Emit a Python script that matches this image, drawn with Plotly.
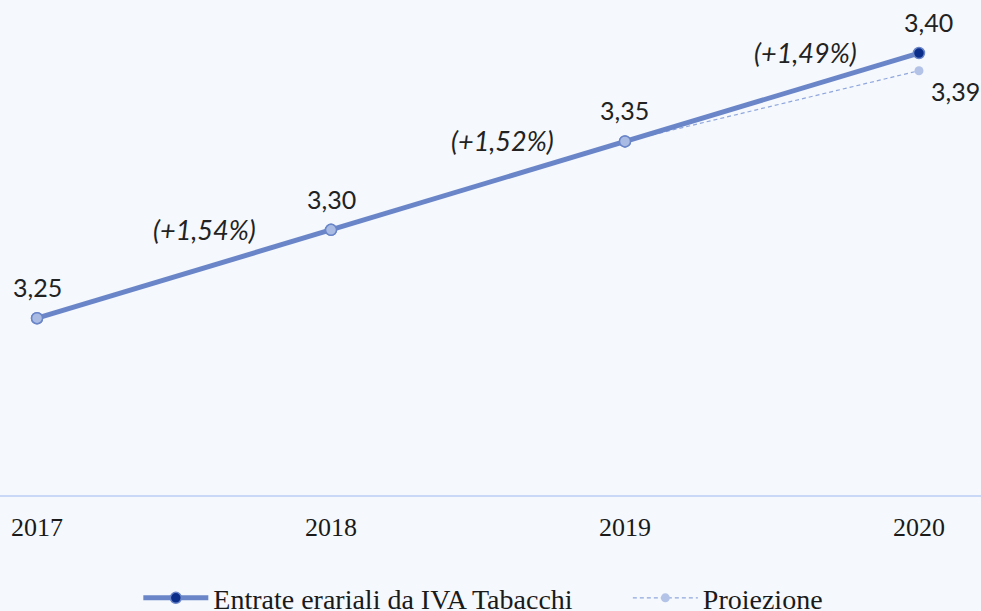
import plotly.graph_objects as go

# Data
years = [2017, 2018, 2019, 2020]
entrate = [3.25, 3.30, 3.35, 3.40]
proj_years = [2019, 2020]
proiezione = [3.35, 3.39]

line_blue = "#6A86C9"
light_marker = "#A9BBE3"
navy = "#0B2E8A"
proj_color = "#8FA6DD"
bg = "#F5F8FC"

fig = go.Figure()

# Projection (dashed, thin)
fig.add_trace(go.Scatter(
    x=proj_years, y=proiezione, mode="lines+markers", name="Proiezione", legend="legend2",
    line=dict(color=proj_color, width=1.2, dash="4px,3px"),
    marker=dict(color="#B3C3E8", size=9, line=dict(color="#B3C3E8", width=0)),
))

# Main series
fig.add_trace(go.Scatter(
    x=years, y=entrate, mode="lines+markers", name="Entrate erariali da IVA Tabacchi",
    line=dict(color=line_blue, width=5),
    marker=dict(color=navy, size=11, line=dict(color=line_blue, width=1.5)),
))

# Lighter markers for historical points
fig.add_trace(go.Scatter(
    x=years[:-1], y=entrate[:-1], mode="markers", showlegend=False,
    marker=dict(color=light_marker, size=11, line=dict(color=line_blue, width=1.5)),
    hoverinfo="skip",
))

label_font = dict(family="Lato", size=25, color="#222222")

# Value labels
for i, (x, y) in enumerate(zip(years, entrate)):
    fig.add_annotation(x=x, y=y, text=f"{y:.2f}".replace(".", ","), showarrow=False,
                       font=label_font, yshift=31, xshift=10 if i == len(years) - 1 else 0)
fig.add_annotation(x=proj_years[-1], y=proiezione[-1], text=f"{proiezione[-1]:.2f}".replace(".", ","),
                   showarrow=False, font=label_font, yshift=-20, xshift=37)

# Growth labels
pct_shift = [20, 24, 34]
for i in range(len(years) - 1):
    pct = (entrate[i + 1] / entrate[i] - 1) * 100
    fig.add_annotation(
        x=(years[i] + years[i + 1]) / 2, y=(entrate[i] + entrate[i + 1]) / 2,
        text=f"<i>(+{pct:.2f}%)</i>".replace(".", ","), showarrow=False,
        font=dict(family="Lato", size=27, color="#222222"), xshift=pct_shift[i], yshift=45,
    )

legend_common = dict(orientation="h", xanchor="left", xref="container",
                     y=0.062, yanchor="top", yref="container",
                     font=dict(family="Liberation Serif", size=28, color="#1a1a1a"),
                     itemwidth=65, bgcolor="rgba(0,0,0,0)")

fig.update_layout(
    width=981, height=611,
    paper_bgcolor=bg, plot_bgcolor=bg,
    margin=dict(l=0, r=0, t=0, b=116),
    showlegend=True,
    legend=dict(x=0.141, **legend_common),
    legend2=dict(x=0.640, **legend_common),
    xaxis=dict(range=[2016.874, 2020.211], tickvals=years, ticktext=[str(y) for y in years],
               showgrid=False, zeroline=False, showline=True, linecolor="#C9D8F6", linewidth=2,
               ticks="", ticklabelstandoff=8,
               tickfont=dict(family="Liberation Serif", size=26, color="#1a1a1a")),
    yaxis=dict(range=[3.15, 3.43], visible=False),
)

fig.write_html("out.html", config={"displayModeBar": False},
               post_script="document.body.style.margin='0';")
